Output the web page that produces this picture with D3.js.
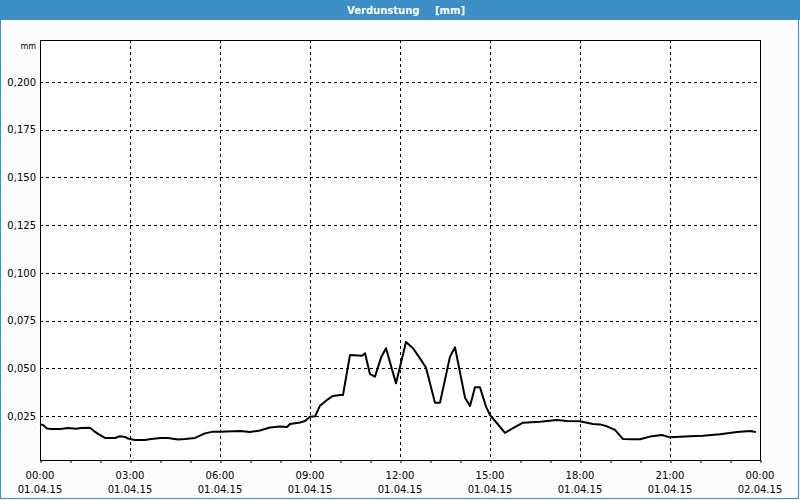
<!DOCTYPE html>
<html>
<head>
<meta charset="utf-8">
<script src="https://cdn.jsdelivr.net/npm/d3@7"></script>
<style>
  html, body { margin: 0; padding: 0; background: #ffffff; }
  svg { display: block; }
  text { font-family: "DejaVu Sans", Verdana, sans-serif; }
</style>
</head>
<body>
<svg id="chart" width="800" height="500"></svg>
<script>
// ---- data ----
const titleText = "Verdunstung";
const unitText = "[mm]";
const yUnit = "mm";
// minutes since 01.04.15 00:00
const minutes = [0,6,14,22,40,56,72,82,100,108,116,130,150,160,170,176,190,210,222,242,256,276,290,310,330,346,360,400,420,440,460,480,494,500,520,530,540,550,560,574,586,600,606,620,644,650,660,670,682,692,712,720,732,746,760,772,790,800,820,830,850,860,870,880,892,900,914,930,946,966,1000,1034,1054,1080,1094,1106,1120,1134,1150,1166,1186,1200,1220,1244,1260,1300,1326,1360,1394,1420,1432];
const values = [0.0206,0.0203,0.0184,0.0182,0.0182,0.0187,0.0183,0.0187,0.0188,0.0171,0.0156,0.0135,0.0135,0.0144,0.0140,0.0132,0.0124,0.0124,0.0129,0.0135,0.0135,0.0127,0.0129,0.0135,0.0159,0.0168,0.0168,0.0171,0.0166,0.0174,0.0190,0.0195,0.0192,0.0208,0.0216,0.0224,0.0246,0.0248,0.0304,0.0334,0.0355,0.0360,0.0360,0.0570,0.0566,0.0579,0.0469,0.0456,0.0556,0.0605,0.0421,0.0508,0.0638,0.0605,0.0552,0.0503,0.0320,0.0320,0.0561,0.0610,0.0346,0.0302,0.0400,0.0400,0.0299,0.0255,0.0212,0.0162,0.0186,0.0215,0.0220,0.0229,0.0224,0.0222,0.0215,0.0208,0.0206,0.0196,0.0177,0.0129,0.0128,0.0128,0.0142,0.0150,0.0138,0.0144,0.0147,0.0154,0.0166,0.0171,0.0166];
const yTicks = [0.025,0.05,0.075,0.1,0.125,0.15,0.175,0.2];
const xTickTimes = ["00:00","03:00","06:00","09:00","12:00","15:00","18:00","21:00","00:00"];
const xTickDates = ["01.04.15","01.04.15","01.04.15","01.04.15","01.04.15","01.04.15","01.04.15","01.04.15","02.04.15"];

// ---- layout ----
const W = 800, H = 500;
const plot = {left: 40, top: 40, right: 760, bottom: 460};
const svg = d3.select("#chart");

// background & frame
svg.append("rect").attr("x",0).attr("y",0).attr("width",W).attr("height",H).attr("fill","#fbfcfb");
svg.append("rect").attr("x",0.5).attr("y",0.5).attr("width",798).attr("height",498)
  .attr("fill","none").attr("stroke","#3c8fc6").attr("stroke-width",1);
svg.append("rect").attr("x",0).attr("y",0).attr("width",W).attr("height",20).attr("fill","#3c8fc6");
svg.append("text").attr("x",347).attr("y",14).attr("fill","#ffffff").attr("font-size","10px").attr("font-weight","bold").text(titleText);
svg.append("text").attr("x",435).attr("y",14).attr("fill","#ffffff").attr("font-size","10px").attr("font-weight","bold").text(unitText);

// scales
const t0 = new Date(2015,3,1,0,0);
const t1 = new Date(2015,3,2,0,0);
const x = d3.scaleTime().domain([t0,t1]).range([plot.left, plot.right]);
const y = d3.scaleLinear().domain([0.00194, 0.2220]).range([plot.bottom, plot.top]);

svg.append("rect").attr("x",plot.left).attr("y",plot.top)
  .attr("width",plot.right-plot.left).attr("height",plot.bottom-plot.top).attr("fill","#ffffff");

// grid
const majorTimes = d3.range(0, 25, 3).map(h => d3.timeHour.offset(t0, h));
svg.append("g").selectAll("line").data(majorTimes.slice(1,-1)).join("line")
  .attr("x1", d => Math.round(x(d))+0.5).attr("x2", d => Math.round(x(d))+0.5)
  .attr("y1", plot.top).attr("y2", plot.bottom)
  .attr("stroke","#000").attr("stroke-width",1).attr("stroke-dasharray","3,3");
svg.append("g").selectAll("line").data(yTicks).join("line")
  .attr("x1", plot.left).attr("x2", plot.right)
  .attr("y1", d => Math.round(y(d))+0.5).attr("y2", d => Math.round(y(d))+0.5)
  .attr("stroke","#000").attr("stroke-width",1).attr("stroke-dasharray","3,3");

// x axis ticks (hourly)
const xAxis = d3.axisBottom(x).ticks(d3.timeHour.every(1)).tickSize(3).tickFormat("");
const gx = svg.append("g").attr("transform",`translate(0.5,${plot.bottom})`).call(xAxis);
gx.select(".domain").remove();
gx.selectAll("line").attr("stroke","#000");

// x labels
const xl = svg.append("g");
xl.selectAll("text.t").data(majorTimes).join("text").attr("class","t")
  .attr("x", d => x(d)).attr("y", 479).attr("text-anchor","middle")
  .attr("font-size","10px").attr("fill","#000").text((d,i) => xTickTimes[i]);
xl.selectAll("text.d").data(majorTimes).join("text").attr("class","d")
  .attr("x", d => x(d)).attr("y", 493).attr("text-anchor","middle")
  .attr("font-size","10px").attr("fill","#000").text((d,i) => xTickDates[i]);

// y labels
const yAxis = d3.axisLeft(y).tickValues(yTicks).tickSize(0).tickPadding(4)
  .tickFormat(d => d3.format(".3f")(d).replace(".", ","));
const gy = svg.append("g").attr("transform",`translate(${plot.left},0)`).call(yAxis);
gy.select(".domain").remove();
gy.selectAll("text").attr("font-size","10px").attr("font-family","DejaVu Sans, sans-serif").attr("fill","#000");
svg.append("text").attr("x",36).attr("y",49).attr("text-anchor","end").attr("font-size","8px").attr("fill","#000").text(yUnit);

// plot frame
svg.append("rect").attr("x",plot.left+0.5).attr("y",plot.top+0.5)
  .attr("width",plot.right-plot.left).attr("height",plot.bottom-plot.top)
  .attr("fill","none").attr("stroke","#000").attr("stroke-width",1);

// line
const data = minutes.map((m,i) => ({t: d3.timeMinute.offset(t0, m), v: values[i]}));
const line = d3.line().x(d => x(d.t)).y(d => y(d.v));
svg.append("path").datum(data).attr("d", line)
  .attr("fill","none").attr("stroke","#000").attr("stroke-width",2).attr("stroke-linejoin","round");
</script>
</body>
</html>
